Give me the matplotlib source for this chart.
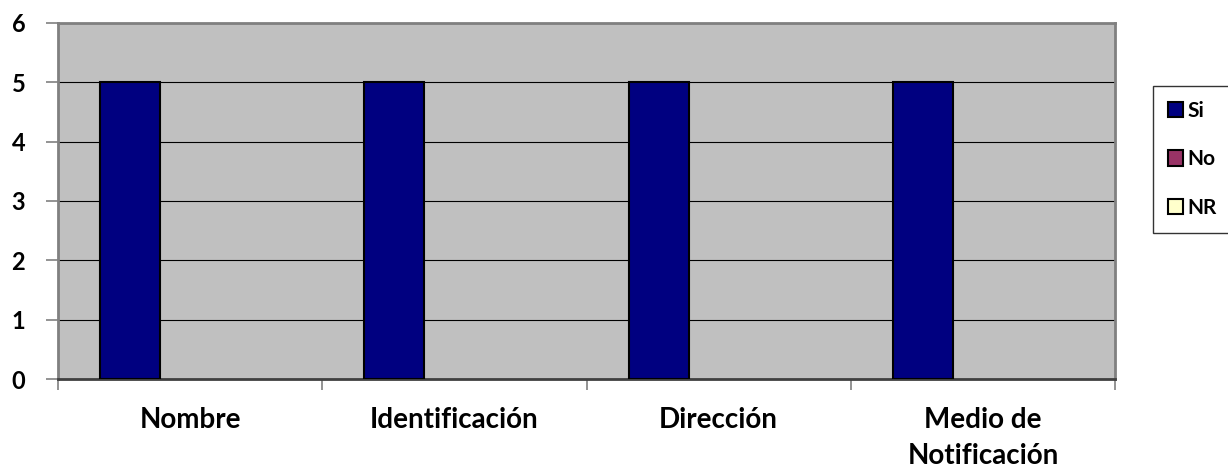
import matplotlib
matplotlib.use("Agg")
import matplotlib.pyplot as plt
import numpy as np
from matplotlib.patches import Patch

categories = ["Nombre", "Identificación", "Dirección", "Medio de\nNotificación"]
series_names = ["Si", "No", "NR"]
si_values = [5, 5, 5, 5]
no_values = [0, 0, 0, 0]
nr_values = [0, 0, 0, 0]
colors = ["#000080", "#993366", "#FFFFCC"]

plt.rcParams['font.family'] = ['Lato', 'DejaVu Sans']
plt.rcParams['font.weight'] = 'bold'

fig = plt.figure(figsize=(12.28, 4.69), dpi=100)
ax = fig.add_axes([58/1228, 90/469, (1115-58)/1228, (379-23)/469])
ax.set_facecolor("#C0C0C0")

x = np.arange(len(categories))
w = 60/264
for k, (vals, c, name) in enumerate(zip([si_values, no_values, nr_values], colors, series_names)):
    heights = np.array(vals, dtype=float)
    mask = heights > 0
    ax.bar(x[mask] + (k - 1) * w, heights[mask], width=w, color=c,
           edgecolor="black", linewidth=1.5, zorder=3)

ax.set_xlim(-0.5, len(categories) - 0.5)
ax.set_ylim(0, 6)
ax.set_yticks(range(0, 7))
ax.yaxis.grid(True, color="black", linewidth=0.8, zorder=1)
ax.set_axisbelow(True)

ax.set_xticks(np.arange(-0.5, len(categories), 1.0))
ax.set_xticklabels([])
ax.set_xticks(x, minor=True)
ax.set_xticklabels(categories, minor=True, fontsize=20, fontweight='bold',
                   linespacing=1.5, va='top')
ax.tick_params(axis='x', which='minor', length=0, pad=20)
ax.tick_params(axis='x', which='major', length=8, color="#808080", width=1.2)
ax.tick_params(axis='y', length=9, color="#808080", width=1.2, labelsize=17, pad=14.5)
for lab in ax.get_yticklabels():
    lab.set_fontweight('bold')
for s in ax.spines.values():
    s.set_color("#808080")
    s.set_linewidth(2)
ax.spines['bottom'].set_color("#404040")

handles = [Patch(facecolor=c, edgecolor="black", linewidth=1.5) for c in colors]
leg = fig.legend(handles, series_names, loc="upper left",
                 bbox_to_anchor=(1153/1228, 1 - 86/469),
                 frameon=True, fancybox=False, edgecolor="black",
                 prop={'weight': 'bold', 'size': 15},
                 handlelength=0.75, handleheight=0.75, handletextpad=0.2,
                 labelspacing=1.38, borderpad=0.7, borderaxespad=0)
leg.get_frame().set_linewidth(1)

fig.savefig("out.png", dpi=100)
